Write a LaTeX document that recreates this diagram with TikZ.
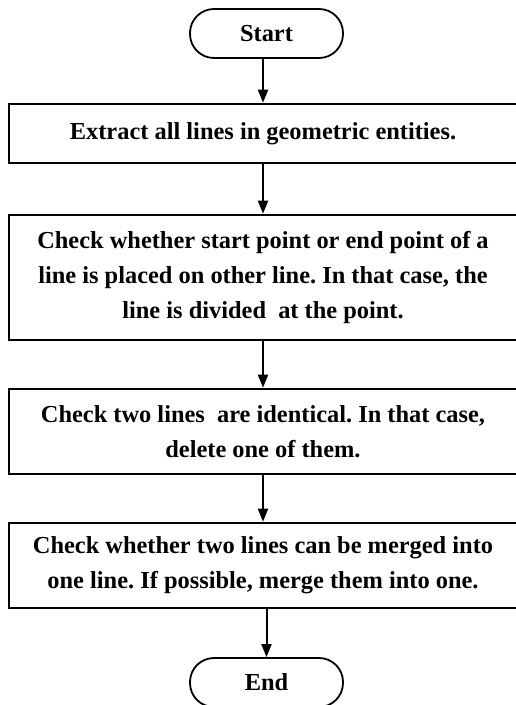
\documentclass[tikz,border=0pt]{standalone}
\usepackage{fontspec}
\setmainfont{Liberation Serif}
\usetikzlibrary{arrows.meta}
\frenchspacing
\begin{document}
\begin{tikzpicture}[x=1pt,y=1pt,
  every node/.style={font=\bfseries\fontsize{24.4}{35}\selectfont, align=center, inner sep=0pt},
  procbox/.style={draw, line width=2.6pt, minimum width=508pt},
  term/.style={draw, line width=1.8pt, rounded corners=24pt, minimum width=153pt, minimum height=49pt},
  arr/.style={line width=2pt, -{Triangle[length=13pt,width=10pt]}}]
\useasboundingbox (0,0) rectangle (516,705);
\node[term] (start) at (266.5,671.5) {Start};
\node[procbox, minimum height=59pt] (b1) at (263,571.5) {Extract all lines in geometric entities.};
\node[procbox, minimum height=125pt] (b2) at (263,427.5) {Check whether start point or end point of a\\line is placed on other line. In that case, the\\line is divided\ \ at the point.};
\node[procbox, minimum height=85pt] (b3) at (263,273.5) {Check two lines\ \ are identical. In that case,\\delete one of them.};
\node[procbox, minimum height=85pt] (b4) at (263,139.5) {Check whether two lines can be merged into\\one line. If possible, merge them into one.};
\node[term] (end) at (266.5,22.5) {End};
\draw[arr] (b1.north |- start.south) -- (b1.north);
\draw[arr] (b1.south) -- (b2.north);
\draw[arr] (b2.south) -- (b3.north);
\draw[arr] (b3.south) -- (b4.north);
\draw[arr] (end.north |- b4.south) -- (end.north);
\end{tikzpicture}
\end{document}
